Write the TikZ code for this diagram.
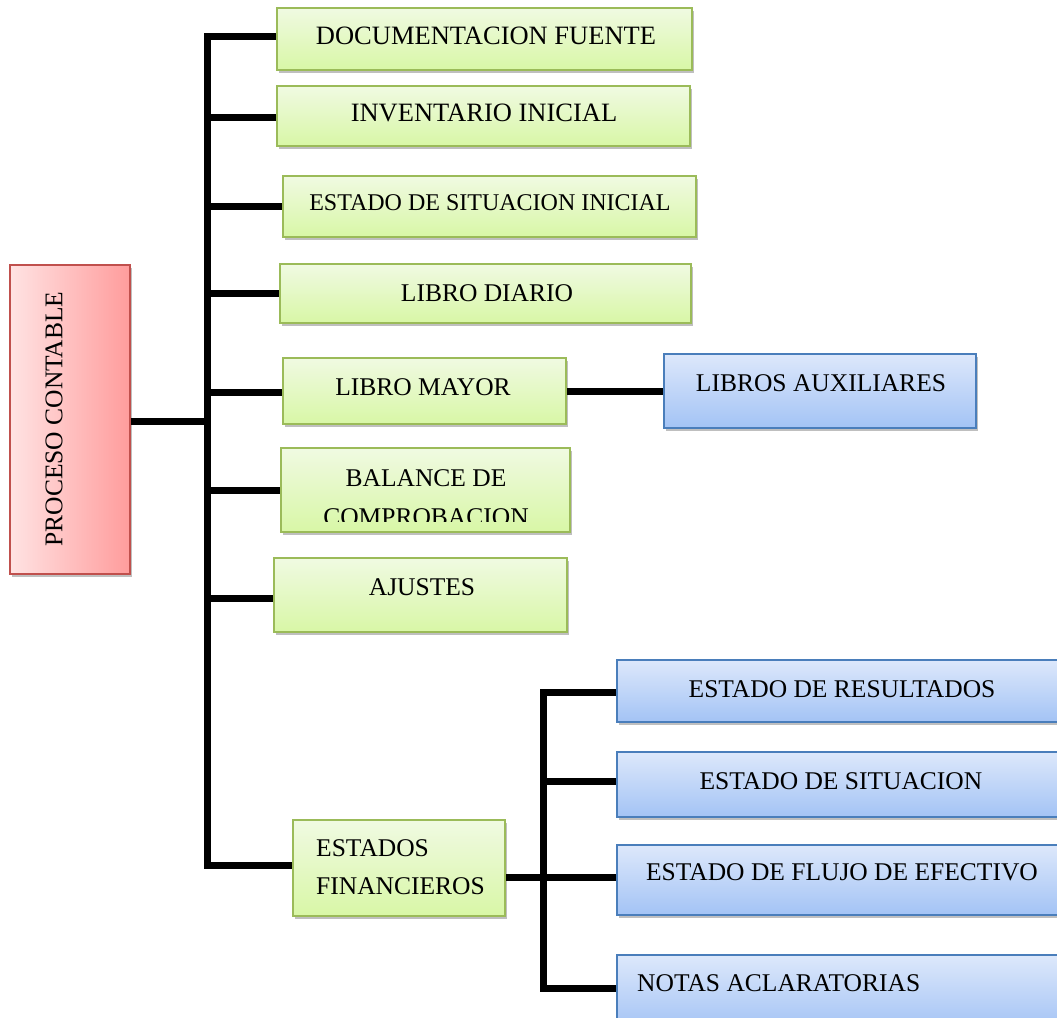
\documentclass[tikz,border=0pt]{standalone}
\usepackage{fontspec}
\setmainfont{Liberation Serif}
\usetikzlibrary{shadows}
\definecolor{gtop}{HTML}{F0FAE2}
\definecolor{gbot}{HTML}{D8F7A6}
\definecolor{gbord}{HTML}{9BBB59}
\definecolor{btop}{HTML}{DDE8FB}
\definecolor{bbot}{HTML}{A3C3F5}
\definecolor{bbord}{HTML}{4A7EBB}
\definecolor{rleft}{HTML}{FFE3E3}
\definecolor{rright}{HTML}{FF9C9C}
\definecolor{rbord}{HTML}{C0504D}
\pgfdeclarelayer{bg}
\pgfsetlayers{bg,main}
\tikzset{
  boxbase/.style={rectangle, inner sep=0pt, line width=1.8pt,
    drop shadow={shadow xshift=2pt, shadow yshift=-3pt, opacity=0.25, fill=black}},
  gbox/.style={boxbase, draw=gbord, top color=gtop, bottom color=gbot},
  bbox/.style={boxbase, draw=bbord, top color=btop, bottom color=bbot},
  rbox/.style={boxbase, draw=rbord, left color=rleft, right color=rright},
  txt/.style={inner sep=0pt, font=\fontsize{25.5}{38}\selectfont},
  conn/.style={line width=7pt, black, line join=miter},
}
\begin{document}
\begin{tikzpicture}[x=1pt,y=-1pt]
\useasboundingbox (0,0) rectangle (1057,1017);
% boxes
\node[rbox, minimum width=120pt, minimum height=309pt] (pc) at (70,419.5) {};
\node[gbox, minimum width=415pt, minimum height=62pt] (doc) at (484.5,39) {};
\node[gbox, minimum width=413pt, minimum height=60pt] (inv) at (483.5,116) {};
\node[gbox, minimum width=413pt, minimum height=61pt] (esi) at (489.5,206.5) {};
\node[gbox, minimum width=411pt, minimum height=59pt] (ldi) at (485.5,293.5) {};
\node[gbox, minimum width=283pt, minimum height=66pt] (lma) at (424.5,391) {};
\node[gbox, minimum width=289pt, minimum height=84pt] (bal) at (425.5,490) {};
\node[gbox, minimum width=293pt, minimum height=74pt] (aju) at (420.5,595) {};
\node[bbox, minimum width=312pt, minimum height=74pt] (aux) at (820,391) {};
\node[gbox, minimum width=212pt, minimum height=96pt] (ef) at (399,868) {};
\node[bbox, minimum width=453pt, minimum height=62pt] (res) at (843.5,691) {};
\node[bbox, minimum width=453pt, minimum height=65pt] (sit) at (843.5,784.5) {};
\node[bbox, minimum width=453pt, minimum height=70pt] (flu) at (843.5,880) {};
\node[bbox, minimum width=453pt, minimum height=75pt] (not) at (843.5,992.5) {};
% texts
\node[txt, rotate=90] (tpc) at (54,419) {PROCESO CONTABLE};
\node[txt, font=\fontsize{26.5}{30}\selectfont] (tdoc) at (486,36) {DOCUMENTACION FUENTE};
\node[txt, font=\fontsize{26.5}{30}\selectfont] (tinv) at (484,113) {INVENTARIO INICIAL};
\node[txt, font=\fontsize{24}{28}\selectfont] (tesi) at (490,203) {ESTADO DE SITUACION INICIAL};
\node[txt] (tldi) at (487,293) {LIBRO DIARIO};
\node[txt] (tlma) at (423,387) {LIBRO MAYOR};
\node[txt] (taux) at (821,383) {LIBROS AUXILIARES};
\begin{scope}
  \clip (281,448) rectangle (570,521);
  \node[txt] (tbal1) at (426,478) {BALANCE DE};
  \node[txt] (tbal2) at (426,517) {COMPROBACION};
\end{scope}
\node[txt] (taju) at (422,587) {AJUSTES};
\node[txt, anchor=west] (tef1) at (316,848) {ESTADOS};
\node[txt, anchor=west] (tef2) at (316,886) {FINANCIEROS};
\node[txt] (tres) at (842,689) {ESTADO DE RESULTADOS};
\node[txt] (tsit) at (841,781) {ESTADO DE SITUACION};
\node[txt] (tflu) at (842,872) {ESTADO DE FLUJO DE EFECTIVO};
\node[txt, anchor=west] (tnot) at (637,983) {NOTAS ACLARATORIAS};
% connectors
\coordinate (s0) at (207,36);
\coordinate (s1) at (207,117);
\coordinate (s2) at (207,206);
\coordinate (s3) at (207,293);
\coordinate (s4) at (207,392);
\coordinate (s5) at (207,490);
\coordinate (s6) at (207,598);
\coordinate (s7) at (207,865);
\coordinate (sp) at (207,421);
\coordinate (m0) at (543,692);
\coordinate (m1) at (543,781);
\coordinate (m2) at (543,877);
\coordinate (m3) at (543,988);
\coordinate (la) at (600,391);
\begin{pgfonlayer}{bg}
\draw[conn] (s0 -| doc.west) -- (s0) -- (s7) -- (s7 -| ef.west);
\draw[conn] (s1) -- (s1 -| inv.west);
\draw[conn] (s2) -- (s2 -| esi.west);
\draw[conn] (s3) -- (s3 -| ldi.west);
\draw[conn] (s4) -- (s4 -| lma.west);
\draw[conn] (s5) -- (s5 -| bal.west);
\draw[conn] (s6) -- (s6 -| aju.west);
\draw[conn] (sp -| pc.east) -- (sp);
\draw[conn] (la -| lma.east) -- (la -| aux.west);
\draw[conn] (m0 -| res.west) -- (m0) -- (m3) -- (m3 -| not.west);
\draw[conn] (m1) -- (m1 -| sit.west);
\draw[conn] (m2 -| ef.east) -- (m2 -| flu.west);
\end{pgfonlayer}
\end{tikzpicture}
\end{document}
